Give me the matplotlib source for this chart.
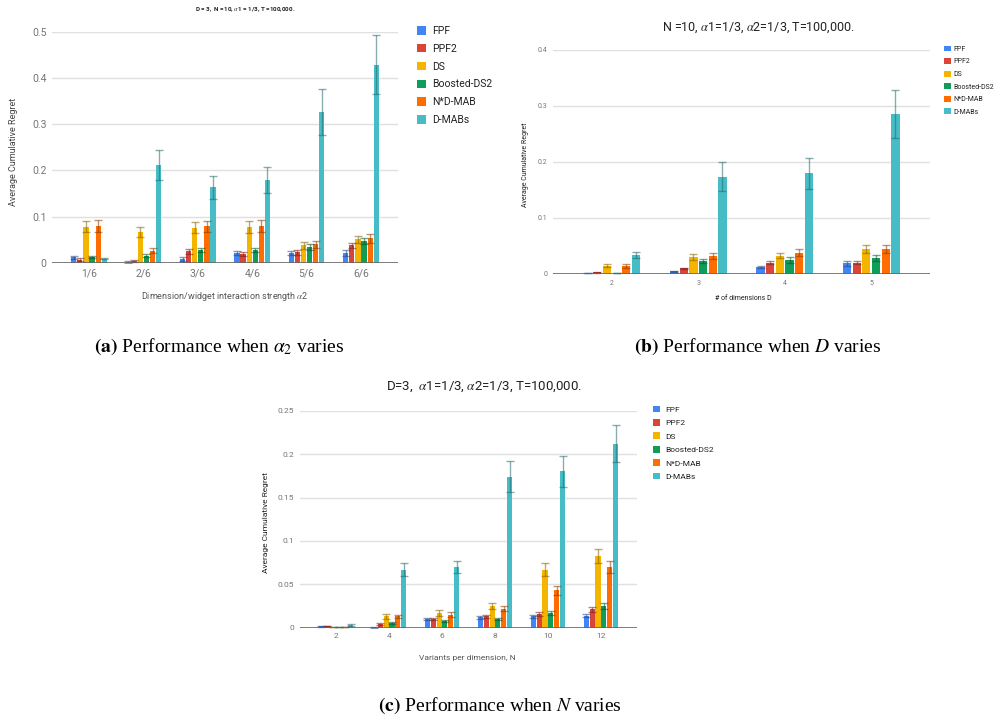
import numpy as np
import matplotlib
matplotlib.use("Agg")
import matplotlib.pyplot as plt
from matplotlib.colors import to_rgb

plt.rcParams['font.family'] = ['Roboto', 'DejaVu Sans']
plt.rcParams['mathtext.fontset'] = 'stix'

series = ["FPF", "PPF2", "DS", "Boosted-DS2", "N*D-MAB", "D-MABs"]
colors = ["#4285F4", "#DB4437", "#F4B400", "#0F9D58", "#FF6D00", "#46BDC6"]

# (a) alpha2 varies -- rows follow `series`
alpha2_labels = ["1/6", "2/6", "3/6", "4/6", "5/6", "6/6"]
alpha2_means = [
    [0.012, 0.002, 0.009, 0.022, 0.022, 0.022],
    [0.007, 0.004, 0.025, 0.020, 0.023, 0.038],
    [0.078, 0.067, 0.076, 0.078, 0.038, 0.051],
    [0.013, 0.016, 0.028, 0.028, 0.034, 0.047],
    [0.080, 0.027, 0.079, 0.081, 0.040, 0.053],
    [0.009, 0.212, 0.164, 0.180, 0.327, 0.429],
]
alpha2_errs = [
    [0.004, 0.002, 0.004, 0.004, 0.005, 0.006],
    [0.003, 0.002, 0.005, 0.004, 0.005, 0.006],
    [0.012, 0.011, 0.012, 0.013, 0.008, 0.008],
    [0.003, 0.004, 0.005, 0.005, 0.006, 0.006],
    [0.012, 0.005, 0.012, 0.013, 0.008, 0.009],
    [0.001, 0.033, 0.025, 0.028, 0.050, 0.064],
]
alpha2_yticks = [0, 0.1, 0.2, 0.3, 0.4, 0.5]
alpha2_yticklabels = ["0", "0.1", "0.2", "0.3", "0.4", "0.5"]

# (b) D varies
dim_labels = ["2", "3", "4", "5"]
dim_means = [
    [0.002, 0.005, 0.012, 0.019],
    [0.003, 0.010, 0.020, 0.020],
    [0.015, 0.030, 0.033, 0.044],
    [0.002, 0.023, 0.025, 0.029],
    [0.014, 0.032, 0.038, 0.045],
    [0.034, 0.174, 0.180, 0.285],
]
dim_errs = [
    [0.0005, 0.001, 0.002, 0.004],
    [0.001, 0.001, 0.003, 0.003],
    [0.003, 0.005, 0.005, 0.007],
    [0.0005, 0.004, 0.005, 0.005],
    [0.003, 0.005, 0.006, 0.007],
    [0.006, 0.026, 0.028, 0.043],
]
dim_yticks = [0, 0.1, 0.2, 0.3, 0.4]
dim_yticklabels = ["0", "0.1", "0.2", "0.3", "0.4"]

# (c) N varies
var_labels = ["2", "4", "6", "8", "10", "12"]
var_means = [
    [0.0015, 0.0005, 0.010, 0.012, 0.013, 0.014],
    [0.002, 0.004, 0.010, 0.013, 0.016, 0.021],
    [0.001, 0.013, 0.017, 0.025, 0.067, 0.083],
    [0.001, 0.005, 0.008, 0.010, 0.017, 0.025],
    [0.001, 0.013, 0.015, 0.022, 0.043, 0.070],
    [0.003, 0.067, 0.070, 0.174, 0.180, 0.212],
]
var_errs = [
    [0.0005, 0.0003, 0.001, 0.002, 0.002, 0.002],
    [0.0005, 0.001, 0.001, 0.002, 0.002, 0.003],
    [0.0003, 0.003, 0.003, 0.004, 0.007, 0.008],
    [0.0003, 0.001, 0.001, 0.001, 0.002, 0.003],
    [0.0003, 0.002, 0.003, 0.003, 0.005, 0.007],
    [0.001, 0.007, 0.007, 0.018, 0.018, 0.021],
]
var_yticks = [0, 0.05, 0.1, 0.15, 0.2, 0.25]
var_yticklabels = ["0", "0.05", "0.1", "0.15", "0.2", "0.25"]

W, H = 997, 722
fig = plt.figure(figsize=(W / 100, H / 100), dpi=100)


def fx(px):
    return px / W


def fy(py):
    return 1 - py / H


def darker(c, f=0.55):
    r, g, b = to_rgb(c)
    return (r * f, g * f, b * f)


def draw_panel(box, labels, means, errs, yticks, yticklabels, tick_fs,
               capsize, leg_xy, leg_fs, leg_spacing, leg_hl, leg_pad=0.6):
    left, top, right, bottom = box
    ax = fig.add_axes([fx(left), fy(bottom), fx(right - left), (bottom - top) / H])
    x = np.arange(len(labels))
    slot, bw = 0.112, 0.095
    handles = []
    for i, name in enumerate(series):
        off = (i - 2.5) * slot
        b = ax.bar(x + off, means[i], bw, color=colors[i], label=name, zorder=2)
        ax.errorbar(x + off, means[i], yerr=errs[i], fmt='none',
                    ecolor=darker(colors[i]), alpha=0.55, elinewidth=1,
                    capsize=capsize, capthick=1, zorder=3)
        handles.append(b)
    ax.set_xlim(-0.68, len(labels) - 0.32)
    ax.set_ylim(yticks[0], yticks[-1])
    ax.set_yticks(yticks)
    ax.set_yticklabels(yticklabels)
    ax.set_xticks(x)
    ax.set_xticklabels(labels)
    ax.tick_params(length=0, labelsize=tick_fs, labelcolor='#757575', pad=4)
    for s in ax.spines.values():
        s.set_visible(False)
    ax.yaxis.grid(True, color='#e0e0e0', lw=1)
    ax.set_axisbelow(True)
    ax.axhline(0, color='#666666', lw=1.2, zorder=4)
    ax.legend(handles=handles, loc='upper left', bbox_to_anchor=leg_xy,
              bbox_transform=fig.transFigure, frameon=False, fontsize=leg_fs,
              handlelength=leg_hl, handleheight=leg_hl, handletextpad=leg_pad,
              labelspacing=leg_spacing, borderpad=0, borderaxespad=0,
              labelcolor='#222222')
    return ax


# (a)
draw_panel((52, 31.7, 398, 263), alpha2_labels, alpha2_means, alpha2_errs,
           alpha2_yticks, alpha2_yticklabels, 7.5, 3,
           (fx(417), fy(26)), 7.5, 0.75, 0.85)
fig.text(fx(245), fy(10), r"D = 3,  N =10, $\alpha$1 = 1/3, T =100,000.",
         ha='center', va='center', fontsize=4.5, color='#222222', weight='bold')
fig.text(fx(13), fy(152), "Average Cumulative Regret", rotation=90,
         ha='center', va='center', fontsize=6.5, color='#444444')
fig.text(fx(225), fy(297), r"Dimension/widget interaction strength $\alpha$2",
         ha='center', va='center', fontsize=6.5, color='#555555')

# (b)
draw_panel((553, 50, 930, 274), dim_labels, dim_means, dim_errs,
           dim_yticks, dim_yticklabels, 5, 3,
           (fx(944), fy(45.5)), 5.0, 0.75, 0.95, 0.4)
fig.text(fx(758), fy(28), r"N =10, $\alpha$1=1/3, $\alpha$2=1/3, T=100,000.",
         ha='center', va='center', fontsize=9, color='#222222')
fig.text(fx(525), fy(165), "Average Cumulative Regret", rotation=90,
         ha='center', va='center', fontsize=5, color='#222222')
fig.text(fx(743), fy(298), "# of dimensions D",
         ha='center', va='center', fontsize=5, color='#222222')

# (c)
draw_panel((300, 410.7, 637, 627.7), var_labels, var_means, var_errs,
           var_yticks, var_yticklabels, 6, 3,
           (fx(653), fy(405.5)), 6, 0.75, 0.85)
fig.text(fx(484), fy(387), r"D=3,  $\alpha$1=1/3, $\alpha$2=1/3, T=100,000.",
         ha='center', va='center', fontsize=9.5, color='#222222')
fig.text(fx(266), fy(523), "Average Cumulative Regret", rotation=90,
         ha='center', va='center', fontsize=6, color='#222222')
fig.text(fx(467), fy(658), "Variants per dimension, N",
         ha='center', va='center', fontsize=6, color='#555555')

# captions
cap_kw = dict(ha='center', va='center', fontsize=14, family='Liberation Serif')
fig.text(fx(219), fy(347), r"$\mathbf{(a)}$ Performance when $\alpha_2$ varies", **cap_kw)
fig.text(fx(758), fy(347), r"$\mathbf{(b)}$ Performance when $D$ varies", **cap_kw)
fig.text(fx(500), fy(706), r"$\mathbf{(c)}$ Performance when $N$ varies", **cap_kw)

fig.savefig("out.png", dpi=100)
